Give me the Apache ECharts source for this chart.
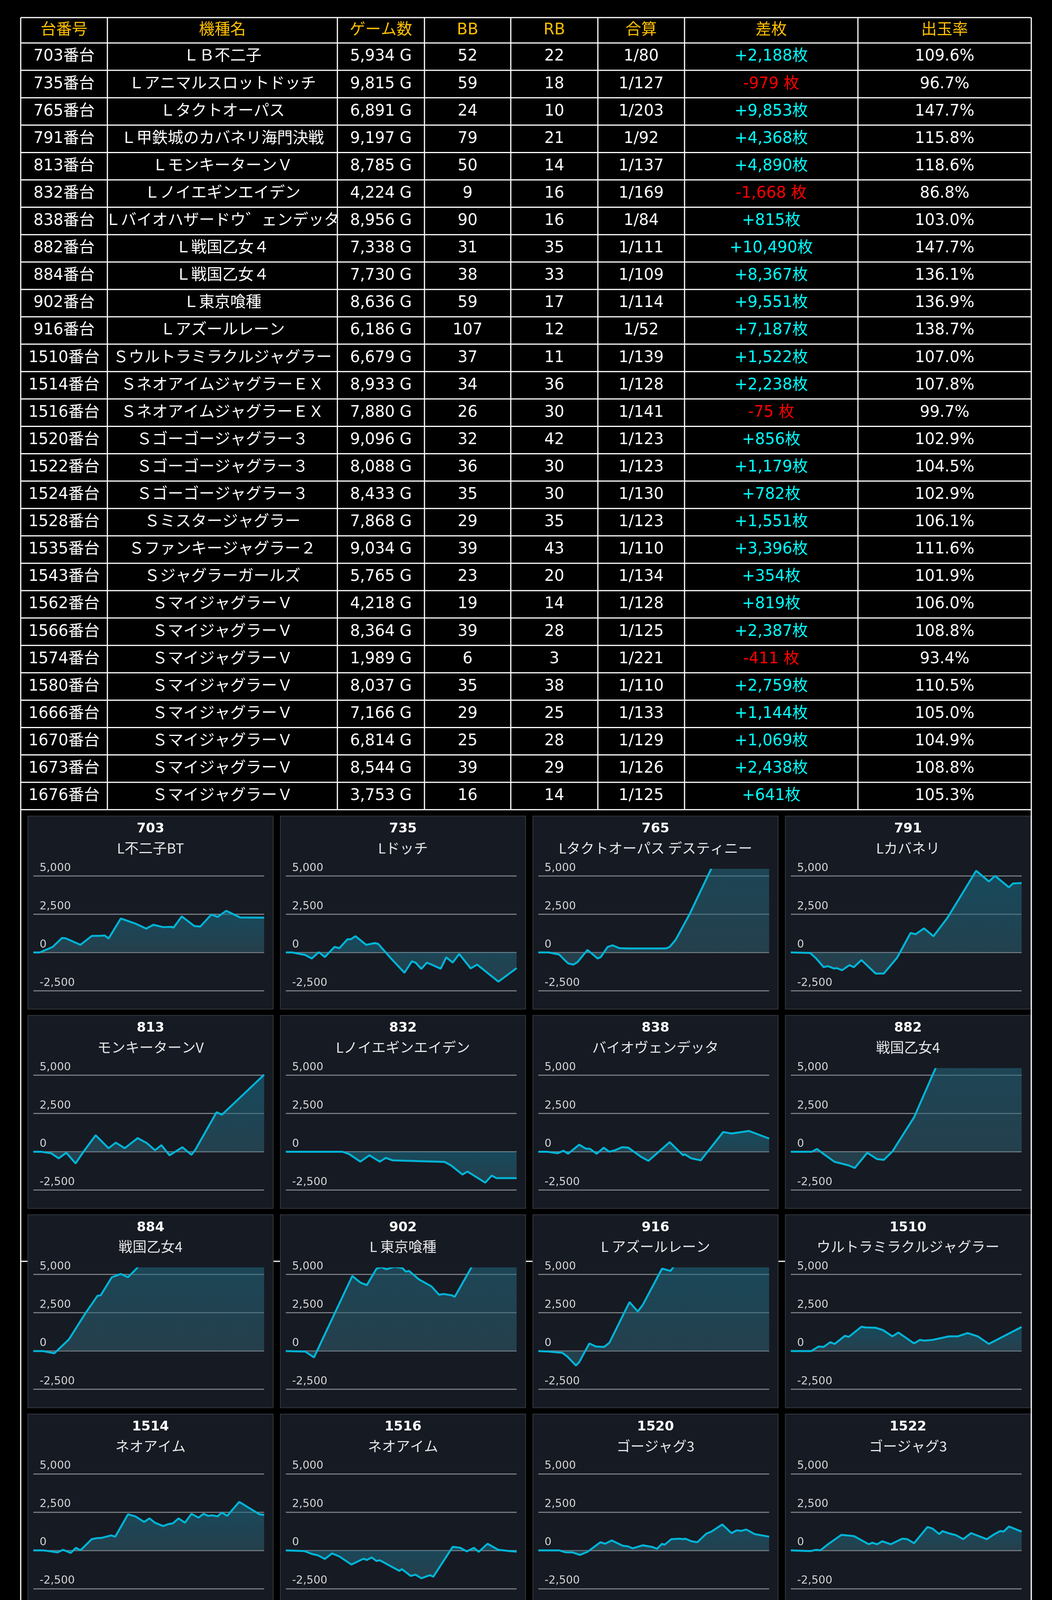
<!DOCTYPE html>
<html>
<head>
<meta charset="utf-8">
<title>台別データ</title>
<script src="https://cdn.jsdelivr.net/npm/echarts@6.0.0/dist/echarts.min.js"></script>
<style>
html, body { margin: 0; padding: 0; background: #000; }
#main { width: 2694px; height: 5671px; }
</style>
</head>
<body>
<div id="main"></div>
<script>
// ---- table data ----
var headers = ['台番号', '機種名', 'ゲーム数', 'BB', 'RB', '合算', '差枚', '出玉率'];
var machineNo = [703, 735, 765, 791, 813, 832, 838, 882, 884, 902, 916, 1510, 1514, 1516, 1520, 1522, 1524, 1528, 1535, 1543, 1562, 1566, 1574, 1580, 1666, 1670, 1673, 1676];
var modelName = ['ＬＢ不二子', 'Ｌアニマルスロットドッチ', 'Ｌタクトオーパス', 'Ｌ甲鉄城のカバネリ海門決戦', 'ＬモンキーターンＶ', 'Ｌノイエギンエイデン', 'Ｌバイオハザードウ゛ェンデッタ', 'Ｌ戦国乙女４', 'Ｌ戦国乙女４', 'Ｌ東京喰種', 'Ｌアズールレーン', 'Ｓウルトラミラクルジャグラー', 'ＳネオアイムジャグラーＥＸ', 'ＳネオアイムジャグラーＥＸ', 'Ｓゴーゴージャグラー３', 'Ｓゴーゴージャグラー３', 'Ｓゴーゴージャグラー３', 'Ｓミスタージャグラー', 'Ｓファンキージャグラー２', 'Ｓジャグラーガールズ', 'ＳマイジャグラーＶ', 'ＳマイジャグラーＶ', 'ＳマイジャグラーＶ', 'ＳマイジャグラーＶ', 'ＳマイジャグラーＶ', 'ＳマイジャグラーＶ', 'ＳマイジャグラーＶ', 'ＳマイジャグラーＶ'];
var games = [5934, 9815, 6891, 9197, 8785, 4224, 8956, 7338, 7730, 8636, 6186, 6679, 8933, 7880, 9096, 8088, 8433, 7868, 9034, 5765, 4218, 8364, 1989, 8037, 7166, 6814, 8544, 3753];
var bbCount = [52, 59, 24, 79, 50, 9, 90, 31, 38, 59, 107, 37, 34, 26, 32, 36, 35, 29, 39, 23, 19, 39, 6, 35, 29, 25, 39, 16];
var rbCount = [22, 18, 10, 21, 14, 16, 16, 35, 33, 17, 12, 11, 36, 30, 42, 30, 30, 35, 43, 20, 14, 28, 3, 38, 25, 28, 29, 14];
var gassan = [80, 127, 203, 92, 137, 169, 84, 111, 109, 114, 52, 139, 128, 141, 123, 123, 130, 123, 110, 134, 128, 125, 221, 110, 133, 129, 126, 125];
var diffCoins = [2188, -979, 9853, 4368, 4890, -1668, 815, 10490, 8367, 9551, 7187, 1522, 2238, -75, 856, 1179, 782, 1551, 3396, 354, 819, 2387, -411, 2759, 1144, 1069, 2438, 641];
var payoutRate = [109.6, 96.7, 147.7, 115.8, 118.6, 86.8, 103.0, 147.7, 136.1, 136.9, 138.7, 107.0, 107.8, 99.7, 102.9, 104.5, 102.9, 106.1, 111.6, 101.9, 106.0, 108.8, 93.4, 110.5, 105.0, 104.9, 108.8, 105.3];

// ---- graph data: [time share %, 差枚] ----
var shortName = ['L不二子BT', 'Lドッチ', 'Lタクトオーパス デスティニー', 'Lカバネリ', 'モンキーターンV', 'Lノイエギンエイデン', 'バイオヴェンデッタ', '戦国乙女4', '戦国乙女4', 'L 東京喰種', 'L アズールレーン', 'ウルトラミラクルジャグラー', 'ネオアイム', 'ネオアイム', 'ゴージャグ3', 'ゴージャグ3', 'ゴージャグ3', 'ミスタージャグラー', 'ファンキー2', 'ジャグラーガールズ', 'マイジャグV', 'マイジャグV', 'マイジャグV', 'マイジャグV', 'マイジャグV', 'マイジャグV', 'マイジャグV', 'マイジャグV'];
var yTicks = [-2500, 0, 2500, 5000];

var g703 = [[0,0],[2.8,0],[8.4,364],[12.4,944],[14,927],[20.4,497],[25.3,1076],[29.5,1093],[30.9,1109],[32.6,911],[37.9,2219],[44.2,1888],[48.9,1557],[52,1805],[56.2,1656],[60.1,1673],[60.7,1606],[64.3,2352],[69.8,1722],[72.3,1689],[77.2,2484],[79.8,2318],[83.6,2716],[89.6,2285],[100,2269]];
var g735 = [[0,0],[2.8,0],[8.4,-166],[11.2,-398],[14.3,17],[16.9,-298],[21.1,364],[23.2,282],[26.7,861],[28.1,861],[30.2,1060],[34.8,497],[38.6,613],[40,563],[45.6,-397],[51.4,-1325],[54.6,-580],[56.2,-663],[58.7,-1076],[61.1,-663],[63.2,-795],[67.1,-1060],[69.5,-315],[72.3,-663],[75.1,-99],[80.1,-1043],[82.9,-795],[92.1,-1904],[100,-1027]];
var g765 = [[0,0],[4.6,0],[9,-132],[11.2,-464],[12.9,-712],[15.2,-795],[17,-629],[21.3,166],[25.7,-397],[27.1,-298],[30,364],[32.2,464],[35.1,281],[38.7,265],[55.4,265],[56.9,364],[59.5,828],[65.6,2517],[74.7,5400],[82,7700],[100,9853]];
var g791 = [[0,0],[8.4,-33],[10.9,-381],[14.2,-960],[16.1,-894],[18.6,-1043],[20,-1027],[22.2,-1159],[25.4,-828],[27.3,-960],[30.6,-497],[36.7,-1374],[40.3,-1374],[46.1,-331],[51.9,1275],[54.1,1192],[57.7,1573],[61.8,1060],[67.9,2269],[80.3,5332],[85.8,4637],[88.5,5001],[94.5,4256],[96.2,4504],[100,4537]];
var g813 = [[0,0],[3.5,0],[7.7,-99],[11,-430],[14.3,-66],[18.3,-762],[21.8,17],[27,1076],[32.6,232],[35.7,596],[39.6,232],[45.2,894],[49.2,563],[52.7,99],[55.5,430],[59,-232],[64.6,298],[68.5,-199],[70.2,132],[79.4,2583],[81.7,2418],[100,5030]];
var g832 = [[0,0],[24.6,0],[27.4,-149],[32.3,-646],[36.2,-232],[40.7,-646],[43.3,-397],[46.3,-563],[68.8,-662],[71.6,-894],[76.5,-1490],[78.7,-1291],[86.4,-2020],[89.2,-1556],[91.3,-1722],[100,-1722]];
var g838 = [[0,0],[3.9,0],[8.3,-99],[10.9,66],[12.9,-132],[17.7,464],[20.6,199],[22.3,199],[25.3,-132],[28.3,265],[30.8,0],[33.2,99],[36.3,298],[39,265],[44.5,-331],[47.7,-596],[56.9,629],[62.7,-232],[63.4,-166],[66.3,-431],[70.4,-563],[80.1,1291],[83.7,1192],[91.3,1358],[100,861]];
var g882 = [[0,0],[9.1,0],[11.3,182],[14.2,-149],[19,-662],[25.1,-894],[27.7,-1060],[33.1,-66],[37.4,-480],[40.3,-530],[44,17],[53.4,2252],[62.5,5382],[72,8600],[100,10490]];
var g884 = [[0,0],[4.2,0],[9.1,-149],[15.4,762],[22.5,2451],[27.8,3610],[29.2,3643],[34,4819],[37.9,5034],[41,4819],[44.7,5382],[55,7300],[100,8367]];
var g902 = [[0,0],[8.4,-33],[12.2,-414],[28.8,4902],[32.3,4471],[35.1,4306],[39.3,5382],[41.5,5480],[43.5,5340],[47,5500],[50.5,5420],[52,5183],[53.4,5233],[57.6,4686],[63.1,4223],[66.4,3676],[68.3,3726],[71.8,3643],[73.2,3544],[80.1,5382],[88,7600],[100,9551]];
var g916 = [[0,0],[4.6,-33],[10.4,-116],[12.6,-364],[16.3,-944],[17.7,-729],[22.1,497],[24.9,298],[28.5,265],[30.8,547],[39.5,3196],[43.1,2583],[45.3,3031],[53.6,5382],[57.3,5233],[62,6200],[100,7187]];
var g1510 = [[0,0],[8.9,0],[12,298],[14.2,265],[17.1,580],[19,464],[23.4,994],[25.1,927],[30.6,1590],[32.4,1540],[36.7,1523],[39.9,1374],[44,960],[46.6,1209],[53.4,497],[55.9,729],[57.8,679],[61.4,729],[68.6,960],[72.3,960],[76.6,1176],[81,960],[85.8,464],[100,1573]];
var g1514 = [[0,0],[4.2,0],[10.5,-132],[12.9,33],[16.2,-166],[18.5,166],[20.4,0],[25.3,729],[27.4,795],[29.5,811],[33.7,977],[35.5,894],[41,2352],[44.2,2219],[48,1855],[50.3,2087],[52.7,1805],[56.2,1590],[58.7,1722],[60.4,1755],[62.9,2087],[65.7,1805],[68.5,2385],[71.6,2136],[73.7,2385],[75.8,2252],[77.5,2285],[79.8,2219],[81.7,2468],[84,2252],[89.2,3163],[98,2351],[100,2318]];
var g1516 = [[0,0],[8.1,-50],[11.2,-232],[14,-331],[16.9,-563],[20,-199],[23.2,-397],[28.4,-927],[33.7,-546],[35.1,-629],[37.2,-464],[39.3,-696],[40.7,-646],[49.2,-1341],[50.3,-1225],[54.1,-1672],[56.2,-1589],[58.7,-1821],[62.5,-1622],[63.9,-1722],[72.3,232],[75.6,166],[78.4,-66],[81.5,166],[83.6,-99],[87.4,431],[92.1,33],[97,-50],[100,-83]];
var g1520 = [[0,0],[9,0],[11.9,-132],[14.8,-132],[18,-298],[21.3,-99],[26.9,530],[28.9,431],[31.8,646],[36.6,298],[38.7,265],[40.9,132],[45.3,331],[49.6,215],[51.4,99],[53.6,431],[54.7,364],[57.6,729],[61.2,762],[62.7,729],[63.7,762],[66.3,596],[68.9,530],[72.8,1093],[75,1225],[79.7,1689],[83.7,1126],[85.9,1308],[88,1275],[90.1,1358],[93.8,1060],[100,894]];
var g1522 = [[0,0],[8.4,-50],[10.9,33],[12.8,0],[16.4,431],[21.9,1010],[27.4,927],[33.8,397],[35.3,497],[37.4,397],[39.6,596],[43.3,397],[48.3,762],[50.5,729],[53.4,464],[59.2,1523],[61.4,1424],[64.3,1060],[65.7,1258],[68.9,1093],[71.5,994],[74.7,729],[78.1,1126],[84.9,729],[88.2,1060],[90.7,1258],[92.2,1225],[94.5,1556],[100,1225]];
var g1524 = [[0,0],[4.2,0],[8.4,66],[11,-216],[13.3,100],[14.7,133],[16.9,266],[19.9,548],[25.3,-100],[29.1,199],[32,-66],[34.4,232],[40,-448],[42.8,-149],[44.2,-199],[46.6,133],[48,17],[50.3,398],[53.4,232],[56.2,100],[58.3,100],[60.7,365],[63.5,199],[66,498],[69.9,133],[73.5,531],[78.7,232],[80.1,232],[81.9,66],[85.4,398],[88,166],[94.4,963],[100,797]];
var g1528 = [[0,0],[3.5,0],[7,100],[9.1,133],[11,33],[14.3,548],[16.6,398],[18.3,465],[21.8,66],[23.9,299],[25.6,183],[27.4,232],[28.8,33],[34.4,1013],[36.8,896],[41.4,1394],[43.5,1361],[46.3,1328],[49.4,1345],[52,1826],[54.8,1461],[59,2125],[66.3,1560],[68.8,1677],[73,1461],[76.1,1361],[79.4,1760],[84.6,1378],[87.1,1428],[91,1594],[94.4,1411],[96.9,1544],[100,1610]];
var g1535 = [[0,0],[3.9,0],[8.3,-100],[11.2,-349],[12.9,-166],[17,-398],[21,-33],[23.9,-199],[26,-100],[31.2,963],[33.7,930],[37,631],[39.9,1029],[42.4,1096],[44.8,896],[51.5,2175],[53.5,2058],[57.3,2689],[59,2722],[62.2,2390],[66.3,3005],[67.5,2922],[71.4,3553],[72.4,3619],[75.3,3984],[77.6,3984],[80.1,4117],[83.7,3752],[86.6,3951],[89.5,3835],[92.1,3885],[94.1,3951],[97.9,3370],[100,3486]];
var g1543 = [[0,0],[12,0],[17.9,-66],[25.4,-598],[30.6,465],[33.8,299],[36.7,365],[41.4,299],[45.1,564],[47.6,515],[51,232],[53.8,631],[56.8,365],[58.8,564],[60.7,432],[63.1,465],[66.5,183],[70.8,-149],[74.2,216],[78.8,-199],[83.2,-100],[85.8,232],[87.8,232],[89.3,332],[91.1,299],[93,465],[100,398]];
var g1562 = [[0,0],[10.5,0],[13.3,100],[15.4,83],[19,0],[21.8,166],[23.6,66],[26,166],[29.5,-33],[33.7,-266],[36.8,-365],[40,-33],[42.4,-199],[45.6,332],[49.2,166],[53.4,-66],[55.5,33],[58.3,-100],[62.9,266],[67.4,614],[72.3,332],[73.7,299],[78,33],[80.8,249],[89.9,249],[94.8,880],[100,847]];
var g1566 = [[0,0],[8.4,0],[11.5,365],[13.3,266],[16.9,747],[20.4,332],[22.2,465],[23.2,398],[28.8,996],[31.6,730],[34.8,1162],[37.9,1577],[41,1228],[44.2,1494],[47.8,1494],[52,2224],[53.7,2125],[55.5,2191],[57.9,2058],[60.4,2025],[61.8,1942],[63.9,1992],[66.7,2457],[69.5,2191],[72.8,2457],[78.9,1793],[81.5,2025],[82.9,1992],[85.7,2291],[87.1,2241],[90.2,2557],[93.8,2390],[100,2457]];
var g1574 = [[0,0],[10.4,0],[14.1,-83],[19.2,-232],[22.1,-232],[27.9,-465],[35.2,-664],[40.5,-465],[46,-697],[48.6,-498],[54.7,-564],[58.3,-332],[72.1,-332],[75,-166],[83.7,-282],[93.1,-282],[97.5,-432],[100,-465]];
var g1580 = [[0,0],[10.6,0],[14.2,166],[16.1,-33],[17.9,33],[19.6,-133],[26.9,913],[33.5,249],[38.2,963],[42.5,1228],[51.2,332],[55.6,1096],[57,1029],[59.9,1228],[64.9,1992],[70.4,3021],[73.3,2905],[76.2,3021],[77.6,2988],[80,2855],[84.3,3436],[86.8,3287],[89,3386],[91.2,3287],[93,3287],[94.8,3154],[96.2,3220],[98.8,2905],[100,2888]];
var g1666 = [[0,0],[3.5,0],[7,-68],[10.5,-178],[12.6,-212],[15.4,-238],[20.4,272],[23.9,144],[25.3,144],[27.8,-93],[33.4,586],[36.8,1486],[41,1121],[43.5,1435],[45.2,1375],[47.1,1401],[52.4,1061],[54.8,1121],[57.6,1460],[61.8,1078],[64.3,1231],[70.2,891],[73.5,526],[77.2,671],[80.1,297],[82.2,501],[84,399],[86,781],[91,1375],[100,1205]];
var g1670 = [[0,0],[8.1,0],[12.6,-153],[17.6,-323],[21.8,-408],[24.6,-535],[27.8,-297],[34.4,-747],[39.3,-280],[41,-408],[43.5,-280],[46.6,-25],[53.7,-518],[56.5,-637],[62.5,17],[68.1,781],[70.2,671],[71.9,755],[73.3,611],[77.9,1418],[80.7,1248],[84.4,1036],[90,1486],[92.7,1375],[94.1,1401],[100,1121]];
var g1673 = [[0,0],[9,17],[10.9,59],[16.3,526],[19.2,696],[21.3,484],[24.9,908],[27.1,671],[29.3,739],[34.4,1630],[39.5,1205],[40.9,1231],[43.8,1036],[46.3,1291],[48.2,1146],[50.4,1265],[52.5,1291],[56.4,1944],[63.4,1205],[67.8,1418],[68.9,1350],[74.7,2454],[76.5,2335],[79.4,2250],[83.4,1842],[90.2,2564],[92.7,2436],[96.1,2793],[100,2539]];
var g1676 = [[0,0],[8.9,-25],[11.3,187],[12.8,59],[22.2,823],[26.3,611],[28.7,722],[31.6,526],[36.7,382],[41.4,756],[43.3,722],[45.7,891],[49.5,696],[52,891],[55.6,671],[57.8,722],[61.7,696],[64,823],[67.5,552],[70.1,823],[71.5,722],[73.3,807],[81.7,331],[83.9,297],[91.9,272],[94.8,696],[100,696]];

var graphs = [g703, g735, g765, g791, g813, g832, g838, g882, g884, g902, g916, g1510, g1514, g1516, g1520, g1522, g1524, g1528, g1535, g1543, g1562, g1566, g1574, g1580, g1666, g1670, g1673, g1676];
</script>
<script>
(function () {
    var chartDom = document.getElementById('main');
    var myChart = echarts.init(chartDom);

    var fontTable = '40px "DejaVu Sans", "Noto Sans CJK JP", sans-serif';
    var colX = [53, 275, 864, 1087, 1308, 1531, 1753, 2197, 2641];
    var tableTop = 45, headH = 65, rowH = 70.1;
    var tableBottom = tableTop + headH + rowH * machineNo.length;

    function fmt(n) {
        return n.toLocaleString('en-US');
    }

    function line(x1, y1, x2, y2, color, width, z) {
        return {
            type: 'line', z: z,
            shape: { x1: x1, y1: y1, x2: x2, y2: y2 },
            style: { stroke: color, lineWidth: width }
        };
    }

    function text(str, x, y, color, font, z) {
        return {
            type: 'text', z: z, x: x, y: y,
            style: { text: str, fill: color, font: font, textAlign: 'center', textVerticalAlign: 'middle', verticalAlign: 'middle' }
        };
    }

    var graphic = [];

    // table grid lines
    graphic.push(line(colX[0], tableTop, colX[8], tableTop, '#fff', 3, 5));
    for (var r = 0; r <= machineNo.length; r++) {
        var yy = tableTop + headH + rowH * r;
        graphic.push(line(colX[0], yy, colX[8], yy, '#fff', 3, 5));
    }
    colX.forEach(function (x) {
        graphic.push(line(x, tableTop, x, tableBottom, '#fff', 3, 5));
    });
    // outer frame around the graph area
    graphic.push(line(colX[0], tableBottom, colX[0], 5671, '#fff', 3, 5));
    graphic.push(line(colX[8], tableBottom, colX[8], 5671, '#fff', 3, 5));
    // separators that peek out between panels
    graphic.push(line(colX[0], 3229, colX[8], 3229, '#fff', 3, -20));
    graphic.push(line(colX[0], 4386, colX[8], 4386, '#fff', 3, -20));

    // header
    headers.forEach(function (h, c) {
        graphic.push(text(h, (colX[c] + colX[c + 1]) / 2, tableTop + headH / 2, '#FFC000', fontTable, 6));
    });

    // rows
    machineNo.forEach(function (no, r) {
        var cy = tableTop + headH + rowH * (r + 0.5);
        var d = diffCoins[r];
        var cells = [
            no + '番台',
            modelName[r],
            fmt(games[r]) + ' G',
            String(bbCount[r]),
            String(rbCount[r]),
            '1/' + gassan[r],
            d >= 0 ? '+' + fmt(d) + '枚' : fmt(d) + ' 枚',
            payoutRate[r].toFixed(1) + '%'
        ];
        cells.forEach(function (s, c) {
            var color = '#fff';
            if (c === 6) color = d >= 0 ? '#00FFFF' : '#FF0000';
            graphic.push(text(s, (colX[c] + colX[c + 1]) / 2, cy, color, fontTable, 6));
        });
    });

    // graph panels
    var grids = [], xAxes = [], yAxes = [], series = [];
    var panelW = 628, panelH = 494;
    graphs.forEach(function (data, i) {
        var col = i % 4, row = Math.floor(i / 4);
        var px = 71.4 + col * 646.6;
        var py = 2089.3 + row * 510.2;

        graphic.push({
            type: 'rect', z: -10,
            shape: { x: px, y: py, width: panelW, height: panelH },
            style: { fill: '#161a23', stroke: '#34373f', lineWidth: 2 }
        });
        graphic.push(text(String(machineNo[i]), px + panelW / 2, py + 33, '#ffffff', 'bold 34px "DejaVu Sans", sans-serif', 6));
        graphic.push(text(shortName[i], px + panelW / 2, py + 82, '#e6e6e6', '36px "Noto Sans CJK JP", sans-serif', 6));

        grids.push({ left: px + 14, top: py + 137.3, width: 591, height: 309.7 });
        xAxes.push({ type: 'value', gridIndex: i, min: 0, max: 100, show: false });
        yAxes.push({
            type: 'value',
            gridIndex: i,
            min: yTicks[0],
            max: 5400,
            interval: 2500,
            axisLine: { show: false },
            axisTick: { show: false },
            axisLabel: {
                inside: true,
                margin: 16,
                verticalAlign: 'bottom',
                padding: [0, 0, 6, 0],
                color: '#d4d4d4',
                fontSize: 28,
                fontFamily: 'DejaVu Sans',
                formatter: function (v) {
                    return yTicks.indexOf(v) >= 0 ? fmt(v) : '';
                }
            },
            splitLine: {
                lineStyle: {
                    width: 3,
                    color: ['#76797f', '#76797f', '#76797f', '#76797f', 'rgba(0,0,0,0)']
                }
            }
        });
        series.push({
            type: 'line',
            xAxisIndex: i,
            yAxisIndex: i,
            data: data,
            showSymbol: false,
            symbol: 'none',
            clip: true,
            lineStyle: { color: '#00b4d6', width: 5 },
            areaStyle: {
                color: {
                    type: 'linear', x: 0, y: 0, x2: 0, y2: 1,
                    colorStops: [
                        { offset: 0, color: 'rgba(22,112,138,0.8)' },
                        { offset: 1, color: 'rgba(52,96,112,0.75)' }
                    ]
                }
            },
            silent: true,
            animation: false
        });
    });

    var option = {
        backgroundColor: '#000',
        animation: false,
        grid: grids,
        xAxis: xAxes,
        yAxis: yAxes,
        series: series,
        graphic: graphic
    };

    myChart.setOption(option);

    window.addEventListener('resize', function () {
        myChart.resize();
    });
})();
</script>
</body>
</html>
